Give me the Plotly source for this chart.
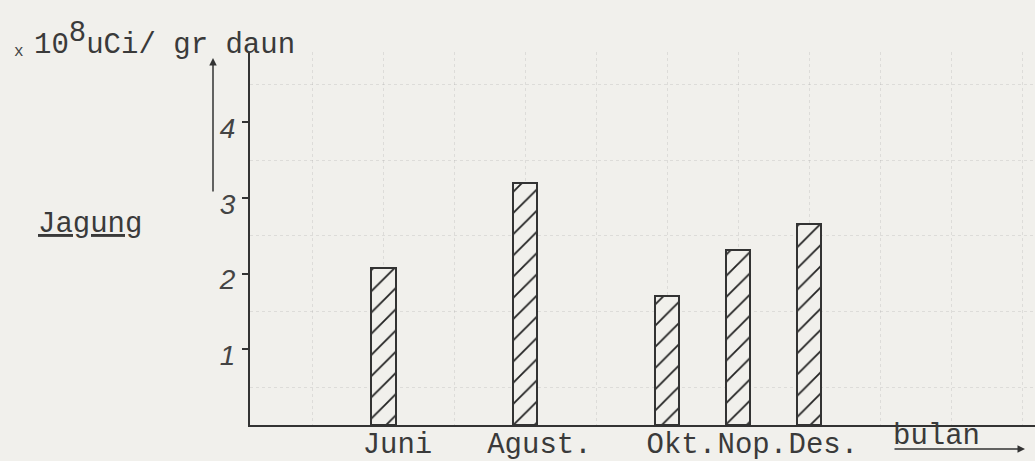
import plotly.graph_objects as go

# ---- data ----
months = [6, 8, 10, 11, 12]
month_labels = ["Juni", "Agust.", "Okt.", "Nop.", "Des."]
values = [2.07, 3.20, 1.70, 2.31, 2.66]  # x 10^8 uCi / gr daun (Jagung)
y_ticks = [1, 2, 3, 4]
y_tick_labels = ["1", "2", "3", "4"]
series_name = "Jagung"
y_unit = "10<sup><span style='font-size:29px'>8</span></sup>uCi/ gr daun"
x_unit = "bulan"

# ---- layout geometry (pixels) ----
W_FIG, H_FIG = 1035, 461
L, T, B_PX = 250, 52, 425
PW, PH = W_FIG - L, B_PX - T

def px(x):
    return (x - L) / PW

def py(y):
    return (B_PX - y) / PH

BG = "#f1f0ec"
INK = "#333333"
MONO = "Liberation Mono, Courier New, monospace"

fig = go.Figure()
fig.add_trace(go.Bar(
    x=months, y=values, width=0.34, name=series_name,
    marker=dict(
        color=BG,
        line=dict(color=INK, width=2),
        pattern=dict(shape="/", fgcolor="#222222", fgopacity=1, bgcolor=BG,
                     size=15, solidity=0.12),
    ),
    showlegend=False,
))

fig.update_layout(
    width=W_FIG, height=H_FIG,
    margin=dict(l=L, r=0, t=T, b=H_FIG - B_PX, pad=0),
    paper_bgcolor=BG, plot_bgcolor=BG,
    xaxis=dict(
        range=[4.12, 15.18], showline=True, linecolor=INK, linewidth=2,
        tickvals=months, ticktext=month_labels, ticks="", showgrid=False,
        zeroline=False, tickfont=dict(family=MONO, size=29, color="#3a3a3a"),
        tickangle=0, automargin=False,
        ticklabelshift=14, ticklabelstandoff=-9,
        minor=dict(dtick=1, tick0=0, showgrid=True, gridcolor="rgba(150,150,150,0.22)",
                   griddash="dot", gridwidth=1, ticks=""),
    ),
    yaxis=dict(
        range=[0, 4.93], showline=True, linecolor=INK, linewidth=2,
        tickvals=y_ticks, ticktext=y_tick_labels, ticks="outside", ticklen=6,
        tickcolor=INK, tickwidth=1.5, showgrid=False, zeroline=False, automargin=False,
        tickfont=dict(family="Liberation Sans, Arial", size=28, color="#444444", style="italic"),
        ticklabelshift=6, ticklabelstandoff=1,
        minor=dict(dtick=1, tick0=0.5, showgrid=True, gridcolor="rgba(150,150,150,0.22)",
                   griddash="dot", gridwidth=1, ticks=""),
    ),
    bargap=0,
)

# unit label top-left
fig.add_annotation(x=px(12), y=py(52), xref="paper", yref="paper", text="x",
                   showarrow=False, xanchor="left", yanchor="middle",
                   font=dict(family=MONO, size=16, color="#444"))
fig.add_annotation(x=px(32), y=py(40), xref="paper", yref="paper", text=y_unit,
                   showarrow=False, xanchor="left", yanchor="middle",
                   font=dict(family=MONO, size=29, color="#3a3a3a"))
# series label
fig.add_annotation(x=px(90), y=py(224), xref="paper", yref="paper",
                   text="<u>" + series_name + "</u>",
                   showarrow=False, xanchor="center", yanchor="middle",
                   font=dict(family=MONO, size=29, color="#3a3a3a"))
# upward arrow beside y axis
fig.add_annotation(x=px(213), y=py(58), xref="paper", yref="paper", text="",
                   showarrow=True, ax=0, ay=135, arrowhead=2, arrowsize=1,
                   arrowwidth=1.5, arrowcolor=INK)
# x unit label with arrow underline
fig.add_annotation(x=px(936), y=py(436), xref="paper", yref="paper", text=x_unit,
                   showarrow=False, xanchor="center", yanchor="middle",
                   font=dict(family=MONO, size=29, color="#3a3a3a"))
fig.add_annotation(x=px(1025), y=py(449), xref="paper", yref="paper", text="",
                   showarrow=True, ax=-132, ay=0, arrowhead=2, arrowsize=1,
                   arrowwidth=1.5, arrowcolor=INK)

fig.write_html("out.html", config={"displayModeBar": False},
               post_script="document.body.style.margin='0';")
